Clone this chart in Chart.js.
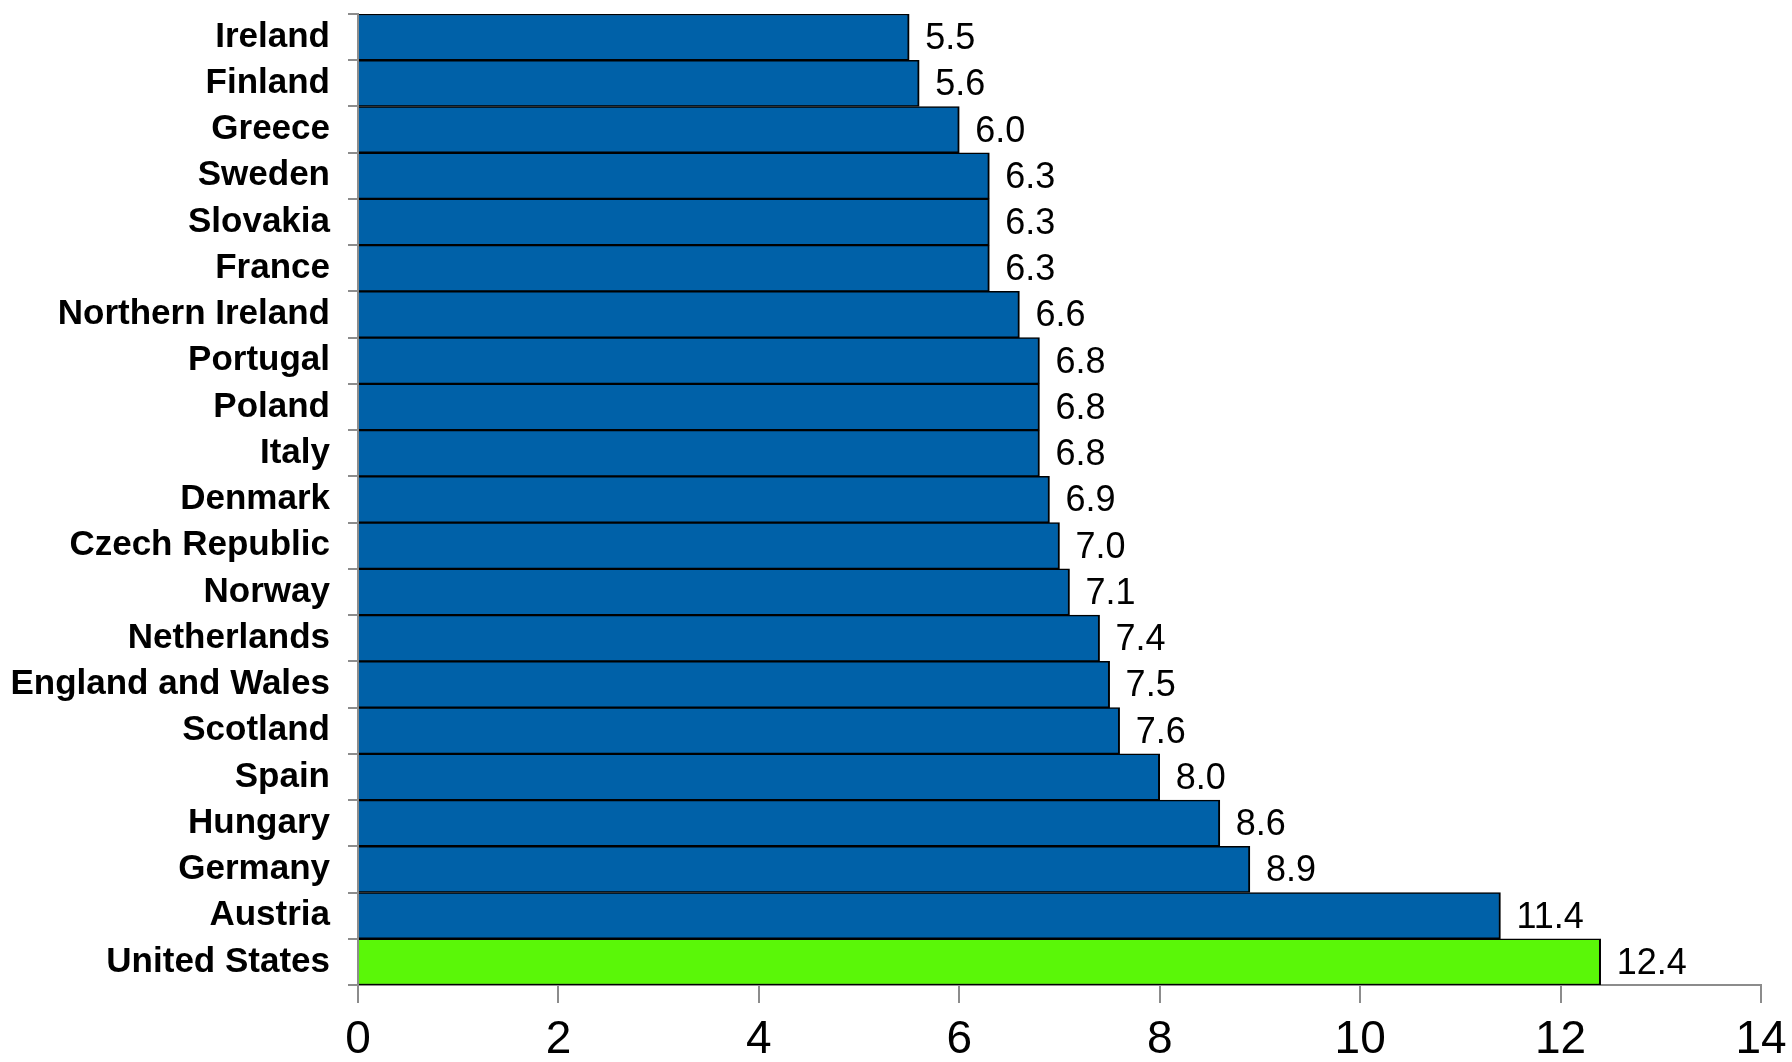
<!DOCTYPE html>
<html>
<head>
<meta charset="utf-8">
<script src="https://cdn.jsdelivr.net/npm/chart.js@4/dist/chart.umd.min.js"></script>
<style>
  html, body { margin: 0; padding: 0; background: #fff; }
  #wrap { width: 1792px; height: 1062px; }
</style>
</head>
<body>
<div id="wrap"><canvas id="chart" width="1792" height="1062"></canvas></div>
<script>
const countries = [
  "Ireland", "Finland", "Greece", "Sweden", "Slovakia", "France",
  "Northern Ireland", "Portugal", "Poland", "Italy", "Denmark",
  "Czech Republic", "Norway", "Netherlands", "England and Wales",
  "Scotland", "Spain", "Hungary", "Germany", "Austria", "United States"
];
const rates = [
  5.5, 5.6, 6.0, 6.3, 6.3, 6.3,
  6.6, 6.8, 6.8, 6.8, 6.9,
  7.0, 7.1, 7.4, 7.5,
  7.6, 8.0, 8.6, 8.9, 11.4, 12.4
];
const xTicks = [0, 2, 4, 6, 8, 10, 12, 14];

const blue = "#0061a8";
const green = "#5af708";
const colors = countries.map(c => c === "United States" ? green : blue);

const FONT = "'Liberation Sans', Arial, Helvetica, sans-serif";

// value written just past the end of each bar
const valueLabels = {
  id: "valueLabels",
  afterDatasetsDraw(chart) {
    const ctx = chart.ctx;
    const meta = chart.getDatasetMeta(0);
    ctx.save();
    ctx.font = "36px " + FONT;
    ctx.fillStyle = "#000";
    ctx.textAlign = "left";
    ctx.textBaseline = "middle";
    meta.data.forEach((bar, i) => {
      ctx.fillText(rates[i].toFixed(1), bar.x + 16, bar.y + 2);
    });
    ctx.restore();
  }
};

new Chart(document.getElementById("chart"), {
  type: "bar",
  data: {
    labels: countries,
    datasets: [{
      data: rates,
      backgroundColor: colors,
      borderColor: "#000",
      borderWidth: { top: 1.5, right: 2, bottom: 1.5, left: 0 },
      borderSkipped: "start",
      barPercentage: 1,
      categoryPercentage: 1
    }]
  },
  options: {
    indexAxis: "y",
    responsive: false,
    animation: false,
    layout: { padding: { top: 14, right: 31, left: 0, bottom: 0 } },
    plugins: {
      legend: { display: false },
      tooltip: { enabled: false }
    },
    scales: {
      y: {
        afterFit(scale) {
          scale.width = 358;
          scale.paddingTop = 0;
          scale.paddingBottom = 0;
        },
        grid: {
          display: true,
          drawOnChartArea: false,
          drawTicks: true,
          tickLength: 10,
          color: "#8c8c8c",
          lineWidth: 2
        },
        border: { color: "#8c8c8c", width: 2 },
        ticks: {
          color: "#000",
          padding: 18,
          autoSkip: false,
          font: { family: FONT, size: 35, weight: "bold" }
        }
      },
      x: {
        min: 0,
        max: 14,
        afterFit(scale) {
          scale.height = 77;
          scale.paddingLeft = 0;
          scale.paddingRight = 0;
        },
        afterBuildTicks(scale) {
          scale.ticks = xTicks.map(v => ({ value: v }));
        },
        grid: {
          display: true,
          drawOnChartArea: false,
          drawTicks: true,
          tickLength: 18,
          color: "#8c8c8c",
          lineWidth: 2
        },
        border: { color: "#8c8c8c", width: 2 },
        ticks: {
          color: "#000",
          padding: 10,
          maxRotation: 0,
          font: { family: FONT, size: 46 }
        }
      }
    }
  },
  plugins: [valueLabels]
});
</script>
</body>
</html>
